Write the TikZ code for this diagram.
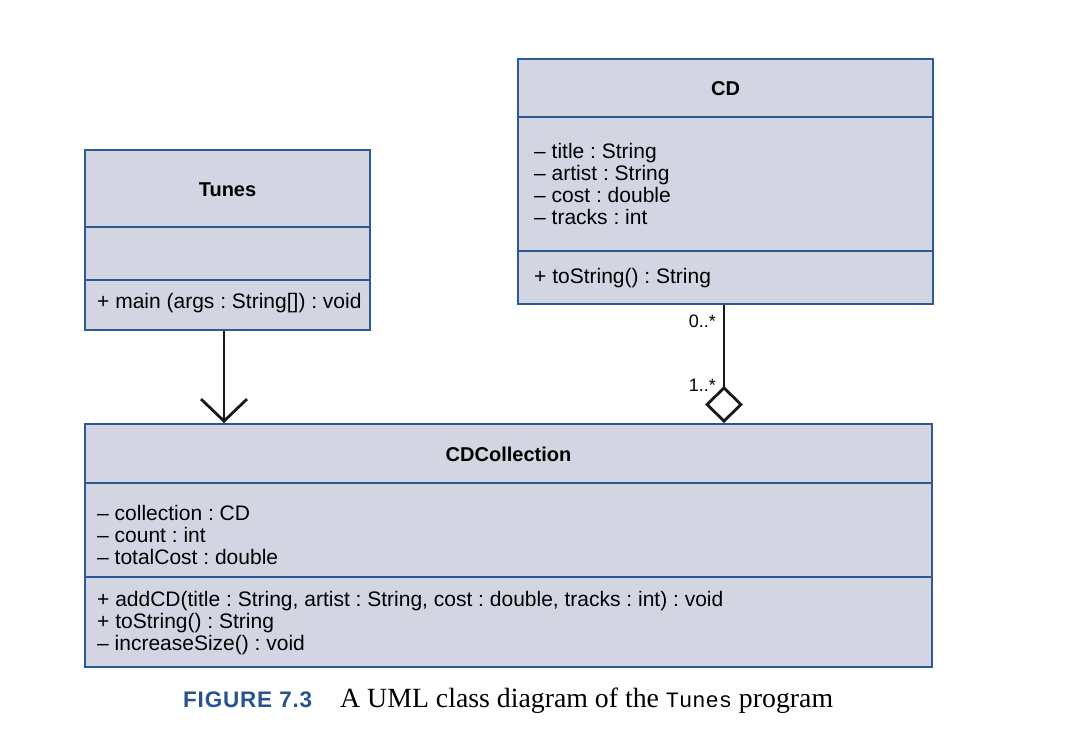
\documentclass[tikz,border=0pt]{standalone}
\usepackage{fontspec}
\setmainfont{Liberation Serif}
\newfontfamily\umlfont{Liberation Sans}
\newfontfamily\capsans{Liberation Sans}
\setmonofont{Liberation Mono}
\usetikzlibrary{arrows.meta}
\definecolor{boxfill}{RGB}{211,214,226}
\definecolor{boxline}{RGB}{44,90,150}
\definecolor{capblue}{RGB}{40,84,140}
\frenchspacing
\begin{document}
\begin{tikzpicture}[x=1pt,y=-1pt,
  classbox/.style={draw=boxline, fill=boxfill, line width=2.4pt, anchor=north west, inner sep=0pt, outer sep=0pt},
  divider/.style={draw=boxline, line width=2.4pt},
  cname/.style={font=\umlfont\fontsize{20}{22}\selectfont\bfseries, inner sep=0pt},
  member/.style={font=\umlfont\fontsize{21}{22}\selectfont, align=left, anchor=west, inner sep=0pt},
  conn/.style={draw=black!90, line width=2.8pt},
  mult/.style={font=\umlfont\fontsize{18}{20}\selectfont, anchor=east, inner sep=0pt}]
\useasboundingbox (0,0) rectangle (1074,732);
\fill[white] (0,0) rectangle (1074,732);
% Tunes
\node[classbox, minimum width=285pt, minimum height=180pt] (tunes) at (85,150) {};
\draw[divider] (85,227) -- (370,227);
\draw[divider] (85,280) -- (370,280);
\node[cname] (tunesname) at (227.5,190) {Tunes};
\node[member] (tunesops) at (97,303) {+ main (args : String[]) : void};
% CD
\node[classbox, minimum width=415pt, minimum height=245pt] (cd) at (518,59) {};
\draw[divider] (518,117) -- (933,117);
\draw[divider] (518,251) -- (933,251);
\node[cname] (cdname) at (725.5,89) {CD};
\node[member] (cdattrs) at (534,184) {– title : String\\– artist : String\\– cost : double\\– tracks : int};
\node[member] (cdops) at (534,278) {+ toString() : String};
% CDCollection
\node[classbox, minimum width=847pt, minimum height=243pt] (coll) at (85,424) {};
\draw[divider] (85,483) -- (932,483);
\draw[divider] (85,577) -- (932,577);
\node[cname] (collname) at (508.5,454) {CDCollection};
\node[member] (collattrs) at (97,535) {– collection : CD\\– count : int\\– totalCost : double};
\node[member] (collops) at (97,623) {+ addCD(title : String, artist : String, cost : double, tracks : int) : void\\+ toString() : String\\– increaseSize() : void};
% connectors
\coordinate (depstart) at (224,331);
\coordinate (depend) at (224,423);
\draw[conn, -{Straight Barb[length=22pt, width=46pt, line width=2.8pt]}] (depstart) -- (depend);
\coordinate (aggstart) at (724,305);
\coordinate (aggend) at (724,423);
\draw[conn, -{Diamond[open, length=37pt, width=38pt, line width=2.8pt]}] (aggstart) -- (aggend);
\node[mult] (m0) at (716,321) {0..*};
\node[mult] (m1) at (716,385) {1..*};
% caption
\node[anchor=base west, inner sep=0pt, text=capblue, font=\capsans\fontsize{22.5}{24}\selectfont\bfseries] (figlabel) at (183,707) {F\kern.8pt I\kern.8pt G\kern.8pt U\kern.8pt R\kern.8pt E\kern.8pt\ 7\kern.8pt.\kern.8pt 3};
\node[anchor=base west, inner sep=0pt, font=\fontsize{27.8}{30}\selectfont] (figtext) at (340,707) {A UML class diagram of the {\ttfamily\fontsize{22}{24}\selectfont Tunes} program};
\end{tikzpicture}
\end{document}
